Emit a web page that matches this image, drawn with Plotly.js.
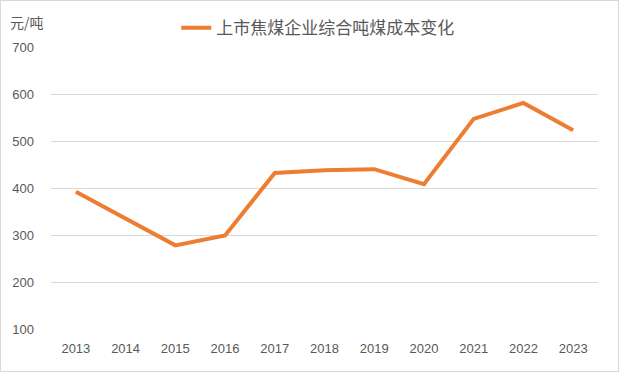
<!DOCTYPE html>
<html><head><meta charset="utf-8">
<script src="https://cdn.plot.ly/plotly-3.0.1.min.js"></script>
<style>
html,body{margin:0;padding:0;background:#fff;}
#chart{width:617px;height:370px;border:1px solid #d9d9d9;}
</style></head>
<body><div id="chart"></div>
<script>
var years = ['2013','2014','2015','2016','2017','2018','2019','2020','2021','2022','2023'];
var costs = [392, 335, 278, 299, 432, 438, 440, 408, 547, 581, 523];
var seriesName = '上市焦煤企业综合吨煤成本变化';
var unitLabel = '元/吨';
var yTicks = [100, 200, 300, 400, 500, 600, 700];

var trace = {
  x: years, y: costs, type: 'scatter', mode: 'lines', name: seriesName,
  line: {color: '#ED7D31', width: 4}
};
var layout = {
  width: 617, height: 370,
  margin: {l: 50, r: 20, t: 46, b: 42},
  paper_bgcolor: '#fff', plot_bgcolor: '#fff',
  showlegend: true,
  legend: {orientation: 'h', x: 0.284, xref: 'container', y: 0.975, yref: 'container',
           xanchor: 'left', yanchor: 'top',
           font: {family: 'Noto Sans CJK SC', size: 17, color: '#595959'}},
  xaxis: {type: 'category', range: [-0.5, 10.5], showgrid: false, zeroline: false, showline: false,
          ticks: '', ticklabelstandoff: 10,
          tickfont: {family: 'Liberation Sans, Arial', size: 13, color: '#595959'},
          fixedrange: true},
  yaxis: {range: [100, 700], tickvals: yTicks, showgrid: true, gridcolor: '#d9d9d9', gridwidth: 1,
          zeroline: false, showline: false, ticks: '', ticklabelstandoff: 16,
          tickfont: {family: 'Liberation Sans, Arial', size: 13, color: '#595959'}},
  annotations: [{text: unitLabel, xref: 'paper', yref: 'paper', x: -0.078, y: 1.09, xanchor: 'left', yanchor: 'middle',
                 showarrow: false, font: {family: 'Noto Sans CJK SC', size: 14, color: '#595959'}}]
};
Plotly.newPlot('chart', [trace], layout, {displayModeBar: false, staticPlot: true});
</script></body></html>
